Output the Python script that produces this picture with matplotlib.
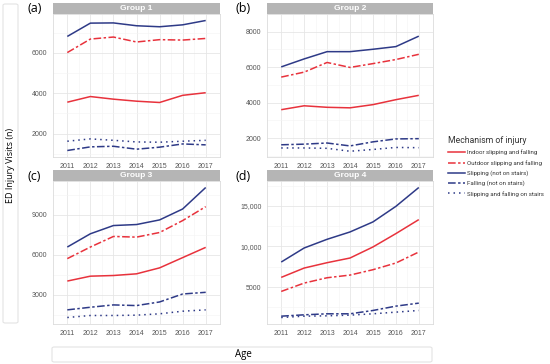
import matplotlib
matplotlib.use("Agg")
import matplotlib.pyplot as plt
from matplotlib.patches import Rectangle, FancyBboxPatch
from matplotlib.lines import Line2D
from matplotlib.ticker import FuncFormatter

# =========================
# data
# =========================
years = [2011, 2012, 2013, 2014, 2015, 2016, 2017]
mechanisms = ["Indoor slipping and falling", "Outdoor slipping and falling",
              "Slipping (not on stairs)", "Falling (not on stairs)",
              "Slipping and falling on stairs"]

# Group 1
g1_indoor = [3560, 3840, 3710, 3610, 3545, 3900, 4030]
g1_outdoor = [6020, 6690, 6790, 6545, 6660, 6640, 6720]
g1_slipping = [6820, 7480, 7490, 7350, 7300, 7395, 7610]
g1_falling = [1165, 1345, 1375, 1230, 1330, 1490, 1445]
g1_stairs = [1625, 1740, 1670, 1590, 1575, 1625, 1670]

# Group 2
g2_indoor = [3600, 3820, 3735, 3705, 3885, 4165, 4410]
g2_outdoor = [5440, 5720, 6265, 5985, 6200, 6430, 6725]
g2_slipping = [6015, 6465, 6875, 6875, 7010, 7160, 7750]
g2_falling = [1620, 1655, 1720, 1555, 1785, 1950, 1965]
g2_stairs = [1440, 1440, 1420, 1255, 1355, 1470, 1455]

# Group 3
g3_indoor = [4040, 4405, 4455, 4580, 5025, 5790, 6555]
g3_outdoor = [5715, 6580, 7370, 7320, 7665, 8555, 9595]
g3_slipping = [6580, 7570, 8185, 8260, 8605, 9420, 11025]
g3_falling = [1890, 2085, 2260, 2210, 2480, 3075, 3200]
g3_stairs = [1320, 1470, 1470, 1495, 1595, 1790, 1890]

# Group 4
g4_indoor = [6195, 7345, 8005, 8580, 9940, 11585, 13310]
g4_outdoor = [4465, 5495, 6150, 6480, 7140, 7965, 9320]
g4_slipping = [8085, 9815, 10885, 11790, 13025, 14940, 17265]
g4_falling = [1420, 1585, 1710, 1710, 2120, 2655, 3025]
g4_stairs = [1255, 1420, 1460, 1545, 1710, 1915, 2120]

groups = ["Group 1", "Group 2", "Group 3", "Group 4"]
panel_tags = ["(a)", "(b)", "(c)", "(d)"]
group_data = [
    [g1_indoor, g1_outdoor, g1_slipping, g1_falling, g1_stairs],
    [g2_indoor, g2_outdoor, g2_slipping, g2_falling, g2_stairs],
    [g3_indoor, g3_outdoor, g3_slipping, g3_falling, g3_stairs],
    [g4_indoor, g4_outdoor, g4_slipping, g4_falling, g4_stairs],
]
y_ticks = [[2000, 4000, 6000], [2000, 4000, 6000, 8000],
           [3000, 6000, 9000], [5000, 10000, 15000]]

# =========================
# styles
# =========================
RED = "#E8323C"
BLUE = "#2E3A87"
colors = [RED, RED, BLUE, BLUE, BLUE]
dashes = [None, (5, 1.6, 1.6, 1.6), None, (5, 1.6, 1.6, 1.6), (1.0, 2.6)]

W, H = 550, 364
fig = plt.figure(figsize=(W / 100, H / 100), dpi=100)


def px_rect(x0, y0, x1, y1):
    return [x0 / W, 1 - y1 / H, (x1 - x0) / W, (y1 - y0) / H]


panels = [(53, 14, 220, 157), (267, 14, 433, 157),
          (53, 181, 220, 324), (267, 181, 433, 324)]
tag_pos = [(28, 9), (236, 9), (28, 176), (236, 176)]


def fmt_thousands(v, pos):
    v = int(round(v))
    return f"{v:,}" if v >= 10000 else str(v)


for i, (x0, y0, x1, y1) in enumerate(panels):
    ax = fig.add_axes(px_rect(x0, y0, x1, y1))
    for j, vals in enumerate(group_data[i]):
        line, = ax.plot(years, vals, color=colors[j], linewidth=1.1,
                        solid_capstyle="butt", dash_capstyle="butt")
        if dashes[j] is not None:
            line.set_dashes(dashes[j])
    allv = [v for s in group_data[i] for v in s]
    lo, hi = min(allv), max(allv)
    pad = 0.05 * (hi - lo)
    ax.set_ylim(lo - pad, hi + pad)
    ax.set_xlim(2011 - 0.62, 2017 + 0.62)
    ax.set_xticks(years)
    ax.set_xticks([y + 0.5 for y in years[:-1]], minor=True)
    yt = y_ticks[i]
    ax.set_yticks(yt)
    step = yt[1] - yt[0]
    ax.set_yticks([t - step / 2 for t in yt] + [yt[-1] + step / 2], minor=True)
    ax.yaxis.set_major_formatter(FuncFormatter(fmt_thousands))
    ax.grid(which="major", color="#e6e6e6", linewidth=0.6)
    ax.grid(which="minor", color="#f3f3f3", linewidth=0.4)
    ax.set_axisbelow(True)
    ax.tick_params(which="both", length=0, labelsize=5, labelcolor="#555555", pad=4)
    for sp in ax.spines.values():
        sp.set_color("#dcdcdc")
        sp.set_linewidth(0.6)
    for lab in ax.get_xticklabels() + ax.get_yticklabels():
        lab.set_family("Liberation Sans")
    # strip
    strip_h = 11 / (y1 - y0)
    ax.add_patch(Rectangle((0, 1), 1, strip_h, transform=ax.transAxes,
                           facecolor="#b5b5b5", edgecolor="none", clip_on=False))
    ax.text(0.5, 1 + strip_h / 2, groups[i], transform=ax.transAxes,
            ha="center", va="center", color="white", fontsize=6,
            fontweight="bold", family="Liberation Sans")
    tx, ty = tag_pos[i]
    fig.text(tx / W, 1 - ty / H, panel_tags[i], ha="left", va="center",
             fontsize=9, family="Open Sans")

# y label box
fig.patches.append(FancyBboxPatch((3 / W, 1 - 323 / H), 15 / W, 319 / H,
                                  boxstyle="round,pad=0,rounding_size=0.004",
                                  transform=fig.transFigure, facecolor="white",
                                  edgecolor="#e3e3e3", linewidth=0.8))
fig.text(11 / W, 1 - 165 / H, "ED Injury Visits (n)", rotation=90,
         ha="center", va="center", fontsize=6.5, family="Open Sans")

# x label box
fig.patches.append(FancyBboxPatch((52 / W, 1 - 362 / H), 380 / W, 15 / H,
                                  boxstyle="round,pad=0,rounding_size=0.004",
                                  transform=fig.transFigure, facecolor="white",
                                  edgecolor="#e3e3e3", linewidth=0.8))
fig.text(243 / W, 1 - 354 / H, "Age", ha="center", va="center",
         fontsize=7, family="Open Sans")

# legend
handles = []
for j in range(5):
    h = Line2D([], [], color=colors[j], linewidth=1.1)
    if dashes[j] is not None:
        h.set_dashes(dashes[j])
    handles.append(h)
leg = fig.legend(handles, mechanisms, loc="upper left",
                 bbox_to_anchor=(445 / W, 1 - 133 / H), frameon=False,
                 title="Mechanism of injury", borderpad=0,
                 handlelength=2.7, labelspacing=0.75,
                 handletextpad=0.45, alignment="left",
                 prop={"family": "Roboto", "size": 4.4})
leg.get_title().set_family("Roboto")
leg.get_title().set_fontsize(6.2)
leg.get_title().set_color("#333333")
for t in leg.get_texts():
    t.set_color("#333333")

fig.savefig("out.png", dpi=100)
